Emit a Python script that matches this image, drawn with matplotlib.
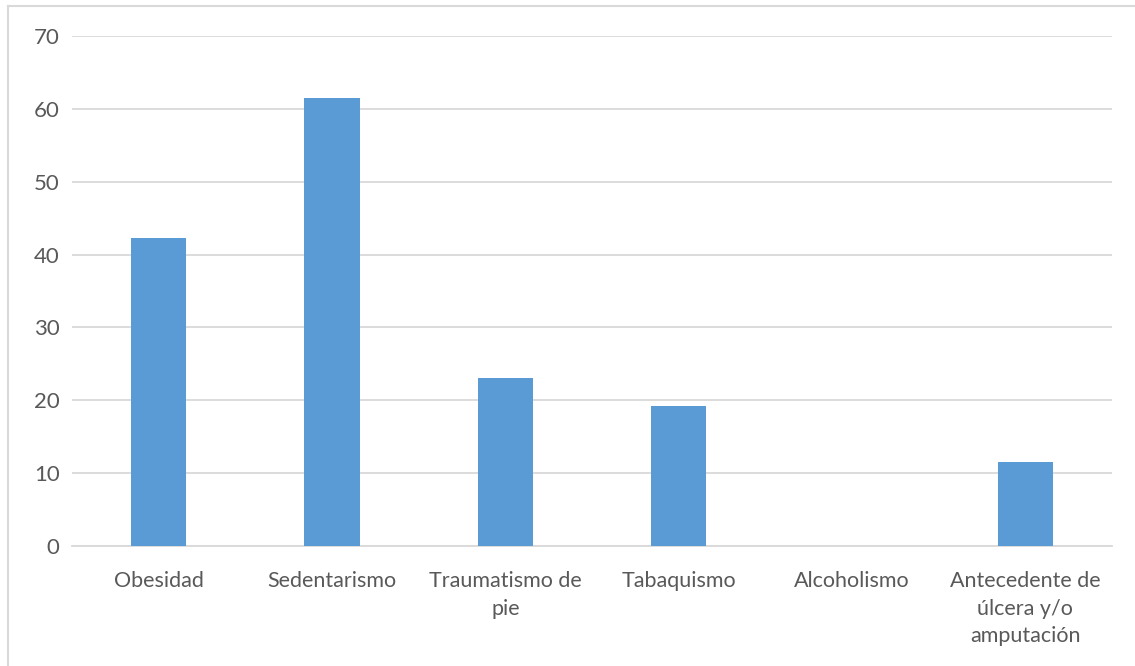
import matplotlib
matplotlib.use("Agg")
import matplotlib.pyplot as plt
from matplotlib.lines import Line2D

categories = ["Obesidad", "Sedentarismo", "Traumatismo de\npie", "Tabaquismo",
              "Alcoholismo", "Antecedente de\núlcera y/o\namputación"]
values = [42.3, 61.5, 23.1, 19.2, 0, 11.5]
yticks = [0, 10, 20, 30, 40, 50, 60, 70]

plt.rcParams["font.family"] = ["Lato", "DejaVu Sans"]
txt = "#595959"
grid = "#D9D9D9"

fig = plt.figure(figsize=(11.35, 6.66), dpi=100)
ax = fig.add_axes([72 / 1135, 120 / 666, 1040 / 1135, 510 / 666])

x = range(len(categories))
ax.bar(x, values, width=0.32, color="#5B9BD5", zorder=3)

ax.set_xlim(-0.5, len(categories) - 0.5)
ax.set_ylim(0, 70)
ax.set_yticks(yticks)
ax.set_xticks(list(x))
ax.set_xticklabels(categories, fontsize=15.5, color=txt, linespacing=1.47)
ax.tick_params(axis="y", labelsize=16, labelcolor=txt, length=0, pad=9)
ax.tick_params(axis="x", length=0, pad=18)
ax.grid(axis="y", color=grid, linewidth=1.3, zorder=0)
for s in ["top", "right", "left"]:
    ax.spines[s].set_visible(False)
ax.spines["bottom"].set_color(grid)
ax.spines["bottom"].set_linewidth(1.3)

# outer chart border (top and left visible)
fig.add_artist(Line2D([8 / 1135, 1.0], [1 - 6 / 666, 1 - 6 / 666], color=grid, lw=1.5, transform=fig.transFigure))
fig.add_artist(Line2D([8 / 1135, 8 / 1135], [0, 1 - 6 / 666], color=grid, lw=1.5, transform=fig.transFigure))

fig.savefig("out.png", dpi=100, facecolor="white")
